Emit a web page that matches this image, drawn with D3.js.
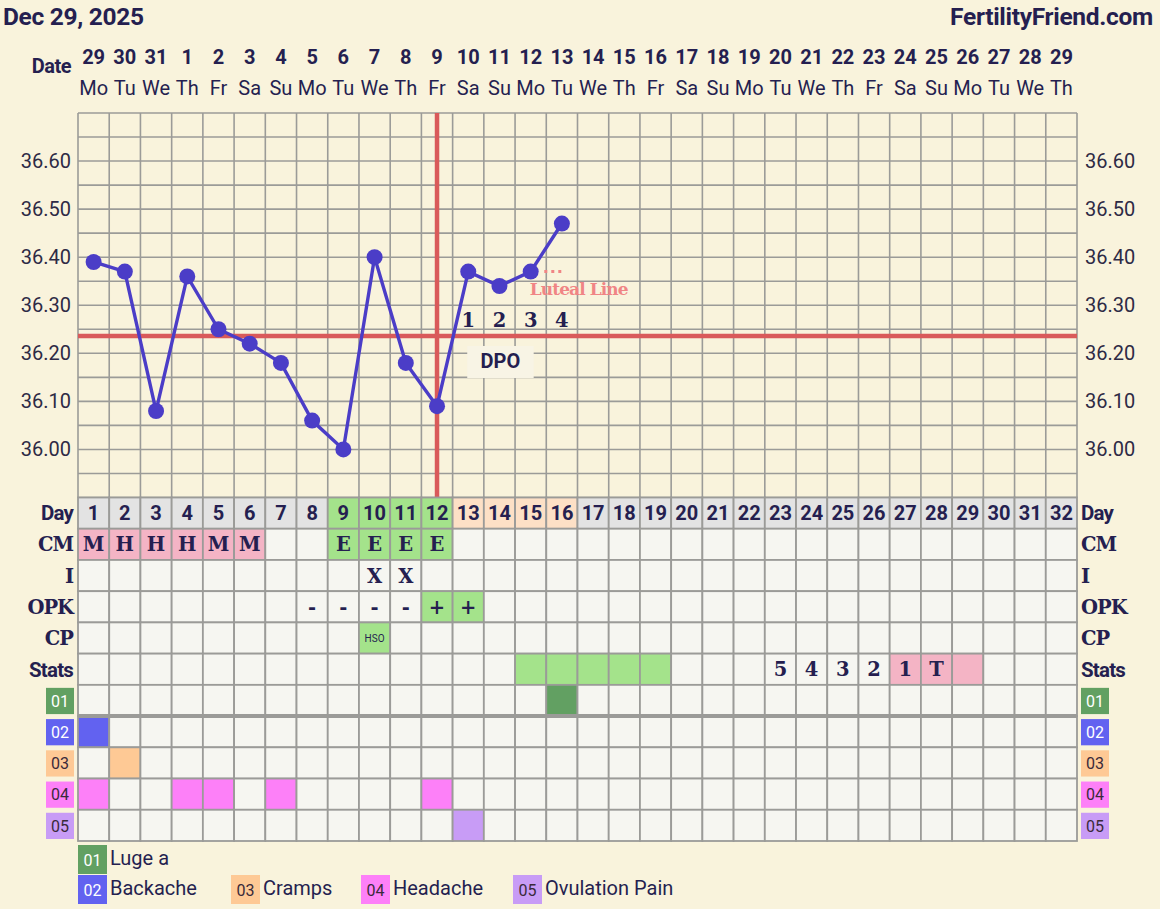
<!DOCTYPE html>
<html><head><meta charset="utf-8">
<script src="https://cdn.jsdelivr.net/npm/d3@7"></script>
<style>
html,body{margin:0;padding:0;background:#f9f3dc;}
svg{display:block;}
</style></head>
<body>
<svg id="c" width="1160" height="909"></svg>
<script>
// ---- data ----
const dates = [29,30,31,1,2,3,4,5,6,7,8,9,10,11,12,13,14,15,16,17,18,19,20,21,22,23,24,25,26,27,28,29];
const weekdays = ["Mo","Tu","We","Th","Fr","Sa","Su","Mo","Tu","We","Th","Fr","Sa","Su","Mo","Tu","We","Th","Fr","Sa","Su","Mo","Tu","We","Th","Fr","Sa","Su","Mo","Tu","We","Th"];
const temps = [36.39,36.37,36.08,36.36,36.25,36.22,36.18,36.06,36.00,36.40,36.18,36.09,36.37,36.34,36.37,36.47];
const tempTicks = [36.00,36.10,36.20,36.30,36.40,36.50,36.60];
const coverline = 36.236;
const lutealLine = 36.37;
const ovulationDay = 12;
const dpoDays = [13,14,15,16];
const cycleDays = d3.range(1,33);
const dayPhase = ["","","","","","","","","fertile","fertile","fertile","fertile","post","post","post","post"];
const cm = ["M","H","H","H","M","M","","","E","E","E","E"];
const intercourse = ["","","","","","","","","","X","X",""];
const opk = ["","","","","","","","-","-","-","-","+","+"];
const cp = ["","","","","","","","","","HSO"];
const statsFill = ["","","","","","","","","","","","","","","fertile","fertile","fertile","fertile","fertile","","","","","","","","pink","pink","pink"];
const statsText = ["","","","","","","","","","","","","","","","","","","","","","","5","4","3","2","1","T",""];
const symptomCodes = ["01","02","03","04","05"];
const symptomNames = ["Luge a","Backache","Cramps","Headache","Ovulation Pain"];
const symptomColors = ["#62a062","#6262f0","#fec995","#fd80f8","#c89cf6"];
const symptomTextColors = ["#fff","#fff","#3a2a3a","#3a2a3a","#3a2a3a"];
const symptomDays = [[16],[1],[2],[1,4,5,7,12],[13]];
const rowLabels = ["Day","CM","I","OPK","CP","Stats"];

// ---- styles ----
const navy = "#251f50";
const sans = "Roboto, 'Noto Sans', sans-serif";
const slab = "'DejaVu Serif', serif";
const gridCol = "#9b9b98";
const cellBg = "#f6f6f1";
const green = "#a4e38b";
const pink = "#f4b4c5";
const peach = "#fde0c6";
const gray = "#e3e3e3";
const red = "#d95a5a";

const svg = d3.select("#c");
const x = d3.scaleBand().domain(cycleDays).range([78,1077]);
const y = d3.scaleLinear().domain([35.90,36.70]).range([497.5,113]);
const allRows = rowLabels.concat(symptomCodes);
const ry = d3.scaleBand().domain(allRows).range([497.5,841]);
const bw = x.bandwidth(), bh = ry.bandwidth();
const cx = d => x(d) + bw/2;

// header
svg.append("text").attr("x",3).attr("y",25).attr("font-family",sans).attr("font-weight",700)
  .attr("font-size",24.5).attr("fill",navy).attr("letter-spacing",-0.3).text("Dec 29, 2025");
svg.append("text").attr("x",1153).attr("y",25).attr("text-anchor","end").attr("font-family",sans).attr("font-weight",700)
  .attr("font-size",24.5).attr("fill",navy).attr("letter-spacing",-0.3).text("FertilityFriend.com");
svg.append("text").attr("x",71).attr("y",73).attr("text-anchor","end").attr("font-family",sans).attr("font-weight",700)
  .attr("font-size",20).attr("fill",navy).attr("letter-spacing",-0.5).text("Date");
svg.append("g").selectAll("text").data(cycleDays).join("text")
  .attr("x",d=>cx(d)).attr("y",64).attr("text-anchor","middle").attr("font-family",sans).attr("font-weight",700)
  .attr("font-size",20).attr("fill",navy).text((d,i)=>dates[i]);
svg.append("g").selectAll("text").data(cycleDays).join("text")
  .attr("x",d=>cx(d)).attr("y",95).attr("text-anchor","middle").attr("font-family",sans)
  .attr("font-size",20).attr("fill",navy).text((d,i)=>weekdays[i]);

// temperature grid
const grid = svg.append("g");
const hLines = d3.range(0,17).map(i=>35.90+i*0.05);
grid.selectAll("line.h").data(hLines).join("line")
  .attr("x1",78).attr("x2",1077).attr("y1",d=>y(d)).attr("y2",d=>y(d))
  .attr("stroke",gridCol).attr("stroke-width",1.6);
grid.selectAll("line.v").data(cycleDays.concat([33])).join("line")
  .attr("x1",d=>d<=32?x(d):1077).attr("x2",d=>d<=32?x(d):1077).attr("y1",113).attr("y2",497.5)
  .attr("stroke",gridCol).attr("stroke-width",1.6);

// y axis labels
const yl = svg.append("g");
yl.selectAll("text.l").data(tempTicks).join("text").attr("class","l")
  .attr("x",71).attr("y",d=>y(d)+7).attr("text-anchor","end").attr("font-family",sans)
  .attr("font-size",20).attr("fill","#2e2a45").text(d=>d.toFixed(2));
yl.selectAll("text.r").data(tempTicks).join("text").attr("class","r")
  .attr("x",1085).attr("y",d=>y(d)+7).attr("text-anchor","start").attr("font-family",sans)
  .attr("font-size",20).attr("fill","#2e2a45").text(d=>d.toFixed(2));

// DPO numbers
svg.append("g").selectAll("text").data(dpoDays).join("text")
  .attr("x",d=>cx(d)).attr("y",y(coverline)-9).attr("text-anchor","middle").attr("font-family",slab).attr("font-weight",700)
  .attr("font-size",19.5).attr("fill",navy).text((d,i)=>i+1);
// DPO box
const boxX = cx(dpoDays[0]) - 1, boxW = cx(dpoDays[2]) - cx(dpoDays[0]) + 4;
svg.append("rect").attr("x",boxX).attr("y",y(coverline)+10).attr("width",boxW).attr("height",32)
  .attr("fill","#f8f4e5");
svg.append("text").attr("x",boxX+boxW/2).attr("y",y(coverline)+32).attr("text-anchor","middle")
  .attr("font-family",sans).attr("font-weight",700).attr("font-size",20).attr("fill",navy).text("DPO");

// coverline and ovulation line
svg.append("line").attr("x1",78).attr("x2",1077).attr("y1",y(coverline)).attr("y2",y(coverline))
  .attr("stroke",red).attr("stroke-width",4.5);
svg.append("line").attr("x1",cx(ovulationDay)).attr("x2",cx(ovulationDay)).attr("y1",113).attr("y2",497.5)
  .attr("stroke",red).attr("stroke-width",4.5);

// luteal line marker
svg.append("line").attr("x1",x(dpoDays[3])-2).attr("x2",cx(dpoDays[3])+1).attr("y1",y(lutealLine)).attr("y2",y(lutealLine))
  .attr("stroke","#f08585").attr("stroke-width",3).attr("stroke-dasharray","3,4");
svg.append("text").attr("x",cx(dpoDays[2])-1).attr("y",y(lutealLine)+23).attr("font-family",slab).attr("font-weight",700)
  .attr("font-size",17).attr("fill","#f08585").attr("letter-spacing",-0.9).text("Luteal Line");

// temperature line
const pts = temps.map((t,i)=>[cx(i+1), y(t)]);
svg.append("path").attr("d",d3.line()(pts)).attr("fill","none").attr("stroke","#4b3dc7").attr("stroke-width",3.4);
svg.append("g").selectAll("circle").data(temps).join("circle")
  .attr("cx",(d,i)=>cx(i+1)).attr("cy",d=>y(d)).attr("r",8).attr("fill","#4b3dc7");

// table
const tbl = svg.append("g");
function cellFill(row, d){
  const i = d-1;
  if(row==="Day"){ const p=dayPhase[i]; return p==="fertile"?green:p==="post"?peach:gray; }
  if(row==="CM"){ const v=cm[i]||""; return v==="E"?green:v?pink:cellBg; }
  if(row==="OPK"){ return opk[i]==="+"?green:cellBg; }
  if(row==="CP"){ return cp[i]?green:cellBg; }
  if(row==="Stats"){ const f=statsFill[i]; return f==="fertile"?green:f==="pink"?pink:cellBg; }
  const k = symptomCodes.indexOf(row);
  if(k>=0 && symptomDays[k].includes(d)) return symptomColors[k];
  return cellBg;
}
allRows.forEach(row=>{
  tbl.append("g").selectAll("rect").data(cycleDays).join("rect")
    .attr("x",d=>x(d)).attr("y",ry(row)).attr("width",bw).attr("height",bh)
    .attr("fill",d=>cellFill(row,d)).attr("stroke",gridCol).attr("stroke-width",1.8);
});
// thick separator
tbl.append("line").attr("x1",78).attr("x2",1077).attr("y1",ry("02")).attr("y2",ry("02"))
  .attr("stroke",gridCol).attr("stroke-width",4);

// table text
function rowText(row, arr, font, size, weight){
  tbl.append("g").selectAll("text").data(cycleDays.filter(d=>arr[d-1])).join("text")
    .attr("x",d=>cx(d)).attr("y",ry(row)+bh/2).attr("dy","0.36em").attr("text-anchor","middle")
    .attr("font-family",font).attr("font-weight",weight).attr("font-size",size).attr("fill",navy)
    .text(d=>arr[d-1]);
}
rowText("Day", dates.map((d,i)=>String(i+1)), sans, 20, 700);
rowText("CM", cm, slab, 19.5, 700);
rowText("I", intercourse, slab, 19.5, 700);
rowText("OPK", opk, slab, 19.5, 700);
rowText("CP", cp, sans, 10, 400);
rowText("Stats", statsText, slab, 19.5, 700);

// row labels
const labelFont = {"Day":sans,"CM":slab,"I":slab,"OPK":slab,"CP":slab,"Stats":sans};
rowLabels.forEach(r=>{
  const common = s=>s.attr("y",ry(r)+bh/2).attr("dy","0.36em").attr("font-family",labelFont[r]).attr("font-weight",700)
    .attr("font-size",labelFont[r]===slab?19.5:20.5).attr("fill",navy).attr("letter-spacing",labelFont[r]===sans?-0.8:-1).text(r);
  tbl.append("text").attr("x",73).attr("text-anchor","end").call(common);
  tbl.append("text").attr("x",1081).attr("text-anchor","start").call(common);
});
// symptom badges
symptomCodes.forEach((c,k)=>{
  [46,1081].forEach(bx=>{
    tbl.append("rect").attr("x",bx).attr("y",ry(c)+3).attr("width",28).attr("height",bh-5).attr("fill",symptomColors[k]);
    tbl.append("text").attr("x",bx+14).attr("y",ry(c)+bh/2+0.5).attr("dy","0.36em").attr("text-anchor","middle")
      .attr("font-family",sans).attr("font-size",16).attr("fill",symptomTextColors[k]).text(c);
  });
});

// legend
const legPos = [[78,845],[78,875],[231,875],[361,875],[513,875]];
const leg = svg.append("g");
symptomCodes.forEach((c,k)=>{
  const [lx,ly] = legPos[k];
  leg.append("rect").attr("x",lx).attr("y",ly).attr("width",29).attr("height",29).attr("fill",symptomColors[k]);
  leg.append("text").attr("x",lx+14.5).attr("y",ly+15).attr("dy","0.36em").attr("text-anchor","middle")
    .attr("font-family",sans).attr("font-size",16).attr("fill",symptomTextColors[k]).text(c);
  leg.append("text").attr("x",lx+32).attr("y",ly+13).attr("dy","0.36em")
    .attr("font-family",sans).attr("font-size",20).attr("fill",navy).text(symptomNames[k]);
});
</script>
</body></html>
